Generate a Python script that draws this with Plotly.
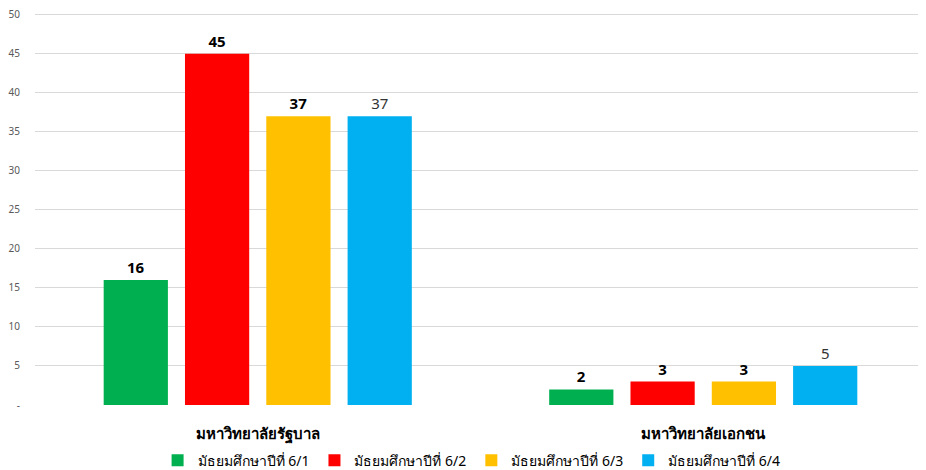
import plotly.graph_objects as go

categories = ["มหาวิทยาลัยรัฐบาล", "มหาวิทยาลัยเอกชน"]
series_names = ["มัธยมศึกษาปีที่ 6/1", "มัธยมศึกษาปีที่ 6/2", "มัธยมศึกษาปีที่ 6/3", "มัธยมศึกษาปีที่ 6/4"]
values_61 = [16, 2]
values_62 = [45, 3]
values_63 = [37, 3]
values_64 = [37, 5]
colors = ["#00b050", "#ff0000", "#ffc000", "#00b0f0"]
tick_vals = [0, 5, 10, 15, 20, 25, 30, 35, 40, 45, 50]
tick_text = ["-", "5", "10", "15", "20", "25", "30", "35", "40", "45", "50"]

FONT = "Noto Sans, DejaVu Sans, sans-serif"
fig = go.Figure()
all_vals = [values_61, values_62, values_63, values_64]
for i, (name, vals) in enumerate(zip(series_names, all_vals)):
    bold = i < 3
    fig.add_trace(go.Bar(
        x=categories, y=vals, name=name,
        marker=dict(color=colors[i], line=dict(width=0)),
        text=[f"<b>{v}</b>" if bold else str(v) for v in vals],
        textposition="outside", cliponaxis=False,
        textfont=dict(size=15, color="#000000" if bold else "#333333", family=FONT),
    ))

fig.update_layout(
    width=918, height=462,
    margin=dict(l=27, r=0, t=2, b=65, autoexpand=False),
    paper_bgcolor="white", plot_bgcolor="white",
    barmode="group", bargap=0.27, bargroupgap=0.21,
    font=dict(family=FONT, color="#000000"),
    showlegend=True,
    legend=dict(orientation="h", x=0.49, xanchor="center",
                yref="container", y=0.02, yanchor="middle",
                font=dict(size=14, color="#000000"), itemwidth=30,
                traceorder="normal", itemclick=False),
    xaxis=dict(showline=False, showgrid=False, ticks="", automargin=False,
               tickfont=dict(size=15, color="#000000", family=FONT),
               ticklabelstandoff=18),
    yaxis=dict(range=[0, 50.6], tickvals=tick_vals, ticktext=tick_text, automargin=False,
               showgrid=True, gridcolor="#d9d9d9", gridwidth=1,
               zeroline=False, showline=False, ticks="",
               tickfont=dict(size=10, color="#595959"),
               ticklabeloverflow="allow",
               ticklabelstandoff=14),
)
fig.update_xaxes(tickprefix="<b>", ticksuffix="</b>")
fig.write_html("out.html")
